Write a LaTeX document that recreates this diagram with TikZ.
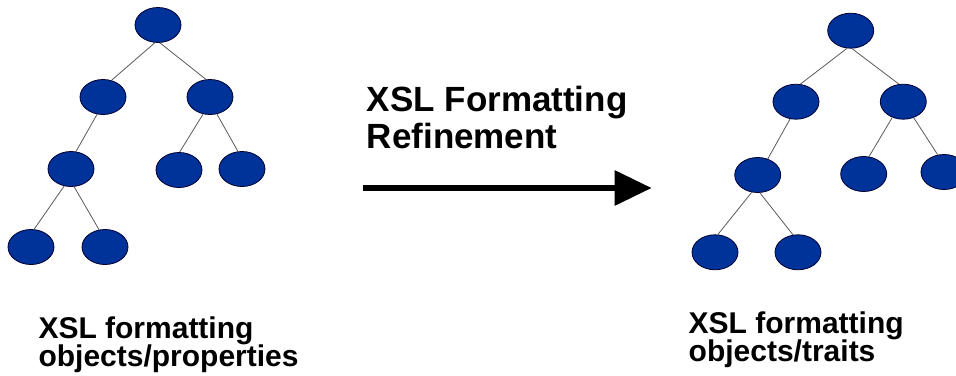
\documentclass[tikz,border=0pt]{standalone}
\usepackage{fontspec}
\setmainfont{Liberation Sans}
\usetikzlibrary{shapes.geometric,arrows.meta}
\definecolor{fobl}{RGB}{0,51,153}
\definecolor{edgegray}{RGB}{90,90,90}
\tikzset{
  tnode/.style={ellipse, draw=black!80!blue, line width=0.8pt, fill=fobl,
    minimum width=46pt, minimum height=35pt, inner sep=0pt},
  tedge/.style={draw=edgegray, line width=0.8pt},
  bigtxt/.style={anchor=base west, inner sep=0pt, font=\fontsize{35}{42}\selectfont\bfseries},
  labtxt/.style={anchor=base west, inner sep=0pt, font=\fontsize{30}{36}\selectfont\bfseries},
  bigarrow/.style={line width=6pt, -{Triangle[length=37pt,width=34pt]}}
}
\begin{document}
\begin{tikzpicture}[x={(1pt,0)}, y={(0,-1pt)}]
\useasboundingbox (0,0) rectangle (956,375);
% left tree
\node[tnode] (a) at (158,25) {};
\node[tnode] (aL) at (103,97) {};
\node[tnode] (aR) at (210,97) {};
\node[tnode] (aLL) at (71,169) {};
\node[tnode] (aRL) at (179,170) {};
\node[tnode] (aRR) at (242,169) {};
\node[tnode] (aLLL) at (31,247) {};
\node[tnode] (aLLR) at (105,247) {};
\draw[tedge] (a.-100) -- (aL.63);
\draw[tedge] (a.-84) -- (aR.103);
\draw[tedge] (aL.-109) -- (aLL.74);
\draw[tedge] (aR.-112) -- (aRL.88);
\draw[tedge] (aR.-68) -- (aRR.103);
\draw[tedge] (aLL.-112) -- (aLLL.80);
\draw[tedge] (aLL.-80) -- (aLLR.109);
% right tree
\node[tnode] (b) at (850.7,30.7) {};
\node[tnode] (bL) at (796,101.7) {};
\node[tnode] (bR) at (903.3,101.7) {};
\node[tnode] (bLL) at (757.7,175) {};
\node[tnode] (bRL) at (863.7,174) {};
\node[tnode] (bRR) at (944,172) {};
\node[tnode] (bLLL) at (715,252.3) {};
\node[tnode] (bLLR) at (798,252.3) {};
\draw[tedge] (b.-102) -- (bL.76);
\draw[tedge] (b.-86) -- (bR.104);
\draw[tedge] (bL.-109) -- (bLL.58);
\draw[tedge] (bR.-125) -- (bRL.73);
\draw[tedge] (bR.-57) -- (bRR.110);
\draw[tedge] (bLL.-109) -- (bLLL.81);
\draw[tedge] (bLL.-83) -- (bLLR.106);
% arrow and title
\node[bigtxt] (t1) at (366.7,111.7) {XSL Formatting};
\node[bigtxt] (t2) at (366.7,148.3) {Refinement};
\coordinate (as) at (362.7,188);
\coordinate (ae) at (651.7,188);
\draw[bigarrow] (as) -- (ae);
% labels
\node[labtxt] (l1) at (38.3,338.3) {XSL formatting};
\node[labtxt] (l2) at (38.3,366.3) {objects/properties};
\node[labtxt] (r1) at (688.5,333.5) {XSL formatting};
\node[labtxt] (r2) at (688.5,361.5) {objects/traits};
\end{tikzpicture}
\end{document}
